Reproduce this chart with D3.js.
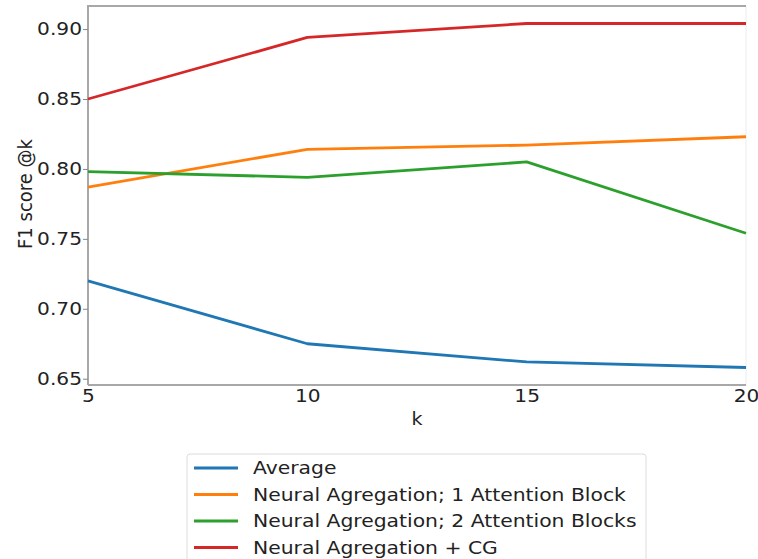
<!DOCTYPE html>
<html>
<head>
<meta charset="utf-8">
<script src="https://cdn.jsdelivr.net/npm/d3@7"></script>
<style>
body{margin:0;background:#fff;}
svg text{font-family:"DejaVu Sans",sans-serif;fill:#222;}
</style>
</head>
<body>
<div id="chart"></div>
<script>
// values
var k_values=[5,10,15,20]
var avg_vals=[0.720,0.675,0.662,0.658]
var one_block_vals=[0.787,0.814,0.817,0.823]
var two_block_vals=[0.798,0.794,0.805,0.754]
var cg_vals=[0.850,0.894,0.904,0.904]
var y_ticks=[0.65,0.70,0.75,0.80,0.85,0.90]
var series_names=["Average","Neural Agregation; 1 Attention Block","Neural Agregation; 2 Attention Blocks","Neural Agregation + CG"]
var series_colors=["#1f77b4","#ff7f0e","#2ca02c","#d62728"]

var series=[avg_vals,one_block_vals,two_block_vals,cg_vals]

var W=758,H=559
var margin={top:6,left:88,right:12,bottom:174}
var sx=1.12 // the source picture is a bit stretched sideways

var svg=d3.select("#chart").append("svg")
    .attr("width",W)
    .attr("height",H)

var x=d3.scaleLinear().domain([5,20]).range([margin.left,W-margin.right])
var y=d3.scaleLinear().domain([0.6455,0.9165]).range([H-margin.bottom,margin.top])

// frame
svg.append("rect")
    .attr("x",margin.left).attr("y",margin.top)
    .attr("width",W-margin.right-margin.left)
    .attr("height",H-margin.bottom-margin.top)
    .attr("fill","none").attr("stroke","#ececec").attr("stroke-width",1)
svg.append("path")
    .attr("d","M"+margin.left+","+(H-margin.bottom)+"H"+(W-margin.right)
        +"M"+margin.left+","+(H-margin.bottom)+"V"+margin.top+"H"+(W-margin.right))
    .attr("fill","none").attr("stroke","#a8a8a8").attr("stroke-width",2)

// axes
var yAxis=svg.append("g")
    .attr("transform","translate("+margin.left+",0)")
    .call(d3.axisLeft(y).tickValues(y_ticks).tickFormat(d3.format(".2f")).tickSize(5).tickPadding(1))
var xAxis=svg.append("g")
    .attr("transform","translate(0,"+(H-margin.bottom)+")")
    .call(d3.axisBottom(x).tickValues(k_values).tickSize(0).tickPadding(4))
yAxis.select(".domain").remove()
xAxis.select(".domain").remove()
yAxis.selectAll("line").attr("stroke","#888")
svg.selectAll(".tick text").style("font-size","18px").attr("fill","#222")
    .attr("transform","scale("+sx+",1)")
yAxis.selectAll(".tick text").attr("x",-6/sx)

svg.append("text")
    .attr("transform","translate("+((margin.left+W-margin.right)/2)+","+(H-margin.bottom+40)+")scale("+sx+",1)")
    .attr("text-anchor","middle")
    .style("font-size","17px")
    .text("k")
svg.append("text")
    .attr("transform","translate(32,194)scale("+sx+",1)rotate(-90)")
    .attr("text-anchor","middle")
    .style("font-size","18px")
    .text("F1 score @k")

// lines
var line=d3.line().x(function(d,i){return x(k_values[i])}).y(function(d){return y(d)})
svg.selectAll(".series")
    .data(series)
    .join("path")
    .attr("class","series")
    .attr("d",line)
    .attr("fill","none")
    .attr("stroke",function(d,i){return series_colors[i]})
    .attr("stroke-width",2.8)
    .attr("stroke-linejoin","round")

// legend
var lg=svg.append("g").attr("transform","translate(187,454)")
lg.append("rect")
    .attr("x",0).attr("y",0).attr("width",459).attr("height",120).attr("rx",3)
    .attr("fill","#fff").attr("stroke","#dcdcdc")
var items=lg.selectAll(".item").data(series_names).join("g")
    .attr("class","item")
    .attr("transform",function(d,i){return "translate(0,"+(14+i*26.5)+")"})
items.append("line")
    .attr("x1",7).attr("x2",51).attr("y1",0).attr("y2",0)
    .attr("stroke",function(d,i){return series_colors[i]}).attr("stroke-width",2.8)
items.append("text")
    .attr("transform","translate(66,6)scale(1.13,1)")
    .style("font-size","18px")
    .text(function(d){return d})
</script>
</body>
</html>
